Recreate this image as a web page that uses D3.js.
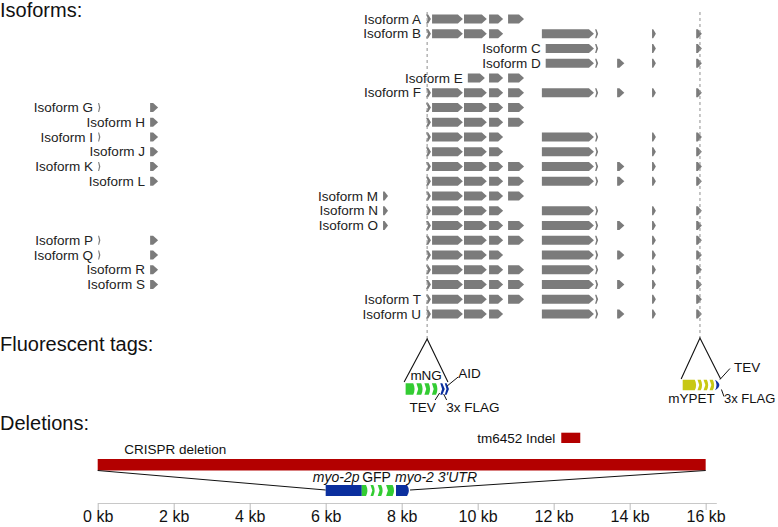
<!DOCTYPE html>
<html><head><meta charset="utf-8">
<script src="https://cdn.jsdelivr.net/npm/d3@7"></script>
<style>
body{margin:0;background:#fff;}
text{font-family:"Liberation Sans",Arial,sans-serif;}
</style></head>
<body>
<svg id="c" width="778" height="527"></svg>
<script>
// ---------- data ----------
const exonIds    = ["L1","L2","M1","e1","e2","e3","e3b","e4","e5","e6","e6b","e7","e8","e9","e10"];
const exonStart  = [0.01,1.38,7.51,8.64,8.80,9.64,9.74,10.30,10.80,11.69,11.79,13.09,13.67,14.59,15.75];
const exonEnd    = [0.07,1.59,7.64,8.77,9.61,10.24,10.19,10.67,11.22,13.06,13.06,13.17,13.86,14.69,15.90];
const isoformNames = ["Isoform A","Isoform B","Isoform C","Isoform D","Isoform E","Isoform F","Isoform G",
  "Isoform H","Isoform I","Isoform J","Isoform K","Isoform L","Isoform M","Isoform N","Isoform O",
  "Isoform P","Isoform Q","Isoform R","Isoform S","Isoform T","Isoform U"];
const isoformExons = [
  ["e1","e2","e3","e4","e5"],
  ["e1","e2","e3","e4","e6","e7","e9","e10"],
  ["e6b","e7","e9","e10"],
  ["e6b","e7","e8","e9","e10"],
  ["e3b","e4","e5"],
  ["e1","e2","e3","e4","e5","e6","e7","e8","e9","e10"],
  ["L1","L2","e1","e2","e3","e4","e5"],
  ["L2","e1","e2","e3","e4","e5"],
  ["L1","L2","e1","e2","e3","e4","e6","e7","e9","e10"],
  ["L2","e1","e2","e3","e4","e6","e7","e9","e10"],
  ["L1","L2","e1","e2","e3","e4","e5","e6","e7","e8","e9","e10"],
  ["L2","e1","e2","e3","e4","e5","e6","e7","e8","e9","e10"],
  ["M1","e1","e2","e3","e4","e5"],
  ["M1","e1","e2","e3","e4","e6","e7","e9","e10"],
  ["M1","e1","e2","e3","e4","e5","e6","e7","e8","e9","e10"],
  ["L1","L2","e1","e2","e3","e4","e5","e6","e7","e9","e10"],
  ["L1","L2","e1","e2","e3","e4","e6","e7","e8","e9","e10"],
  ["L2","e1","e2","e3","e4","e5","e6","e7","e9","e10"],
  ["L2","e1","e2","e3","e4","e5","e6","e7","e8","e9","e10"],
  ["e1","e2","e3","e4","e5","e6","e7","e9","e10"],
  ["e1","e2","e3","e4","e6","e7","e8","e9","e10"]
];
const tagSites = [8.67, 15.85];
// tag constructs: fractions along each inset construct
const ngParts   = ["mNG","mNG","mNG","mNG","FLAG","AID"];
const ngStart   = [0,0.249,0.434,0.607,0.80,0.904];
const ngEnd     = [0.226,0.411,0.584,0.753,0.904,1];
const ypParts   = ["mYPET","mYPET","mYPET","mYPET","FLAG"];
const ypStart   = [0,0.38,0.536,0.69,0.83];
const ypEnd     = [0.367,0.52,0.677,0.83,1];
const deletionNames = ["CRISPR deletion","tm6452 Indel"];
const deletionStart = [0, 12.2];
const deletionEnd   = [16, 12.7];
const insertParts = ["myo-2p","GFP","GFP","GFP","GFP","3'UTR"];
const insertStart = [6.0,6.95,7.18,7.37,7.59,7.85];
const insertEnd   = [6.95,7.12,7.31,7.52,7.82,8.22];
const axisTicks = [0,2,4,6,8,10,12,14,16];
const axisMax = 16.28;

// ---------- drawing ----------
const svg = d3.select("#c");
const x = d3.scaleLinear().domain([0, axisMax]).range([97.7, 716.3]);
const rowY = d3.scalePoint().domain(isoformNames).range([19, 314]);
const GRAY = "#7b7b7b", RED = "#b30000", BLUE = "#0b2f9e", GREEN = "#33cc33", YEL = "#c8c814";
const font = "'Liberation Sans', Arial, sans-serif";

function arrowPath(x0, x1, yc, h) {
  const w = x1 - x0, tip = Math.min(5, w * 0.7);
  return `M${x0},${yc-h/2}L${x1-tip},${yc-h/2}L${x1},${yc}L${x1-tip},${yc+h/2}L${x0},${yc+h/2}Z`;
}
function chevronPath(x0, x1, yc, h) {
  const w = x1 - x0, n = Math.max(1, w * 0.45);
  return `M${x0},${yc-h/2}L${x0+n},${yc-h/2}L${x1},${yc}L${x0+n},${yc+h/2}L${x0},${yc+h/2}L${x0+n*0.9},${yc}Z`;
}
function blockPath(x0, x1, yc, h, notch) {
  const tip = 2.2;
  return `M${x0},${yc-h/2}L${x1-tip},${yc-h/2}Q${x1+0.5},${yc} ${x1-tip},${yc+h/2}L${x0},${yc+h/2}` +
    (notch ? `L${x0+1.8},${yc}Z` : "Z");
}
const chevronSet = new Set(["L1","e1","e7"]);

// section titles
const titles = [["Isoforms:",16.5],["Fluorescent tags:",351],["Deletions:",430]];
svg.selectAll("text.title").data(titles).join("text").attr("class","title")
  .attr("x",0).attr("y",d=>d[1]).attr("font-size",20).attr("fill","#111").text(d=>d[0]);

// isoforms
const rows = svg.append("g");
isoformNames.forEach((name, i) => {
  const y = rowY(name);
  const ids = isoformExons[i];
  const first = exonIds.indexOf(ids[0]);
  rows.append("text").attr("x", x(exonStart[first]) - 5).attr("y", y + 4.7)
    .attr("text-anchor","end").attr("font-size",13.5).attr("fill","#222").text(name);
  ids.forEach(id => {
    const k = exonIds.indexOf(id);
    const x0 = x(exonStart[k]), x1 = x(exonEnd[k]);
    rows.append("path").attr("d", chevronSet.has(id) ? chevronPath(x0,x1,y,9) : arrowPath(x0,x1,y,9))
      .attr("fill", GRAY);
  });
});

// dashed site lines
const apexY = [339, 338];
tagSites.forEach((s, i) => {
  svg.append("line").attr("x1", x(s)).attr("x2", x(s)).attr("y1", 12).attr("y2", apexY[i])
    .attr("stroke","#999").attr("stroke-width",1.1).attr("stroke-dasharray","3,3");
});

// fluorescent tag insets
function drawInset(site, apex, left, right, baseY, cy, h, starts, ends, parts, colorOf) {
  const sx = x(site);
  const ix = d3.scaleLinear().domain([0,1]).range([sx + left, sx + right]);
  svg.append("path").attr("d",`M${ix(0)-1.5},${baseY}L${sx},${apex}L${ix(1)-1},${baseY}`)
    .attr("fill","none").attr("stroke","#111").attr("stroke-width",1.1);
  starts.forEach((s, j) => {
    const x0 = ix(s), x1 = ix(ends[j]);
    let d;
    if (parts[j] === "FLAG" && j === parts.length - 1 && parts[0] === "mYPET") {
      d = `M${x0},${cy-h/2}Q${x1+2},${cy} ${x0},${cy+h/2}Q${x0+3},${cy} ${x0},${cy-h/2}Z`;
    } else if (parts[j] === "FLAG" || parts[j] === "AID") {
      d = chevronPath(x0, x1, cy, h);
    } else {
      d = blockPath(x0, x1, cy, h, j !== 0);
    }
    svg.append("path").attr("d", d).attr("fill", colorOf(parts[j]));
  });
  return ix;
}
drawInset(tagSites[0], 339, -21.5, 21.8, 382, 389, 11.5, ngStart, ngEnd, ngParts,
  p => p === "mNG" ? GREEN : BLUE);
drawInset(tagSites[1], 338, -17.3, 21.7, 379, 385, 10.5, ypStart, ypEnd, ypParts,
  p => p === "mYPET" ? YEL : BLUE);

function label(t, xx, yy, anchor, size, italic) {
  return svg.append("text").attr("x", xx).attr("y", yy).attr("text-anchor", anchor || "start")
    .attr("font-size", size || 13).attr("fill","#111").attr("font-style", italic ? "italic" : "normal").text(t);
}
function leader(x1, y1, x2, y2) {
  svg.append("line").attr("x1",x1).attr("y1",y1).attr("x2",x2).attr("y2",y2)
    .attr("stroke","#111").attr("stroke-width",1);
}
const sL = x(tagSites[0]), sR = x(tagSites[1]);
label("mNG", sL - 1, 380, "middle", 13.5);
label("AID", sL + 31, 378, "start", 13.5);
leader(sL + 31, 377, sL + 20, 386);
label("TEV", sL - 4.5, 411.7, "middle", 13.5);
leader(sL + 8, 400, sL + 12.5, 393);
label("3x FLAG", sL + 19, 411.7, "start", 13.5);
leader(sL + 19.5, 400, sL + 16.5, 394);

label("TEV", sR + 34, 371.7, "start", 13.5);
leader(sR + 30, 368.5, sR + 20, 379.5);
label("mYPET", sR - 8.5, 403.3, "middle", 13.5);
label("3x FLAG", sR + 24, 403.3, "start", 13);
leader(sR + 24, 396.5, sR + 21.5, 389.5);

// deletions
deletionNames.forEach((n, i) => {
  const top = i === 0 ? 459 : 432.7, h = i === 0 ? 11.5 : 10.3;
  svg.append("rect").attr("x", x(deletionStart[i])).attr("y", top)
    .attr("width", x(deletionEnd[i]) - x(deletionStart[i])).attr("height", h).attr("fill", RED);
});
label("CRISPR deletion", x(deletionStart[0]) + 26.5, 453.5, "start", 13.5);
label("tm6452 Indel", x(deletionStart[1]) - 6, 442.5, "end", 13.5);

// insertion inset lines
const insTop = 485, insH = 11;
leader(x(deletionStart[0]), 470.5, x(insertStart[0]), 490);
leader(x(deletionEnd[0]), 470.5, x(insertEnd[insertEnd.length-1]), 490);
insertParts.forEach((p, j) => {
  const x0 = x(insertStart[j]), x1 = x(insertEnd[j]);
  let d;
  if (p === "myo-2p") d = `M${x0},${insTop}H${x1}V${insTop+insH}H${x0}Z`;
  else if (p === "3'UTR") d = `M${x0},${insTop}H${x1-3}Q${x1+0.5},${insTop+insH/2} ${x1-3},${insTop+insH}H${x0}Z`;
  else d = blockPath(x0, x1, insTop + insH/2, insH, j !== 1);
  svg.append("path").attr("d", d).attr("fill", p === "GFP" ? GREEN : BLUE);
});
label("myo-2p", x(insertStart[0]) + 10.5, 481.7, "middle", 14, true);
label("GFP", x(insertStart[2]) + 6, 481.7, "middle", 14, false);
label("myo-2 3'UTR", x(insertStart[5]) - 1, 481.7, "start", 14, true);

// axis
const ax = svg.append("g").attr("transform","translate(0,503)")
  .call(d3.axisBottom(x).tickValues(axisTicks).tickSize(7).tickSizeOuter(0).tickFormat(d => d + " kb"));
ax.select(".domain").attr("stroke","#c8c8c8");
ax.selectAll(".tick line").attr("stroke","#bbb");
ax.selectAll(".tick text").attr("font-size",16).attr("font-family",font).attr("fill","#111")
  .attr("y", 8).attr("dy","0.71em");
</script>
</body></html>
